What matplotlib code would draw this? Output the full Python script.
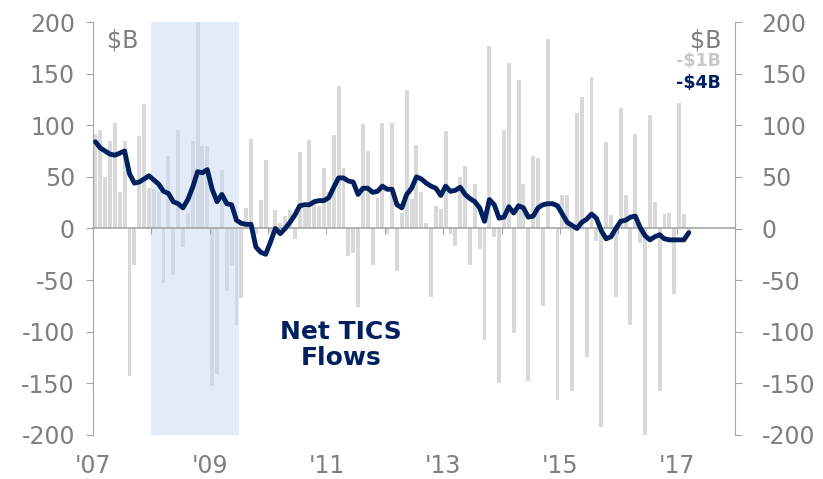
import matplotlib
matplotlib.use("Agg")
import matplotlib.pyplot as plt
import numpy as np

plt.rcParams['font.family'] = ['DejaVu Sans']
plt.rcParams['axes.unicode_minus'] = False

# monthly net TICS flows, $B, Jan 2007 .. Mar 2017
bars = [92, 95, 50, 85, 102, 35, 85, -143, -35, 90, 121, 39,
        38, 35, -53, 70, -45, 95, -18, 15, 85, 230, 80, 80,
        -153, -141, 57, -61, -35, -93, -67, 20, 87, -5, 28, 66,
        -3, 18, 5, 12, 18, -10, 74, 20, 86, 25, 22, 59,
        35, 91, 138, 59, -27, -24, -76, 101, 75, -35, 30, 102,
        -5, 102, -41, 15, 134, 29, 81, 35, 5, -66, 22, 19,
        94, -5, -17, 50, 61, -35, 43, -20, -108, 177, -8, -150,
        95, 160, -101, 144, 43, -148, 70, 68, -75, 184, 1, -166,
        32, 32, -157, 112, 127, -124, 147, -12, -192, 84, 13, -66,
        117, 32, -93, 92, -14, -202, 110, 26, -157, 14, 15, -63,
        122, 14, -1]

# smoothed flows (line), same months
line = [84, 78, 75, 72, 71, 73, 75, 53, 44, 45, 48, 51,
        47, 43, 36, 34, 26, 24, 20, 28, 40, 55, 54, 57,
        38, 26, 33, 24, 23, 8, 5, 4, 4, -18, -23, -25,
        -13, 0, -5, 0, 6, 13, 22, 23, 23, 26, 27, 27,
        30, 40, 49, 49, 46, 45, 33, 39, 39, 35, 36, 41,
        38, 38, 23, 20, 33, 39, 50, 48, 44, 41, 39, 32,
        41, 36, 37, 40, 33, 29, 26, 20, 7, 28, 23, 10,
        11, 21, 15, 22, 20, 11, 12, 20, 23, 24, 24, 22,
        14, 6, 3, 0, 6, 9, 14, 10, -2, -10, -8, 0,
        7, 8, 11, 12, 1, -7, -11, -8, -6, -10, -11, -11,
        -11, -11, -4]

year_ticks = np.arange(0, 133, 12)
year_labels = ["'07", "'09", "'11", "'13", "'15", "'17"]
recession = (12, 30)   # Jan 2008 .. Jun 2009, months from Jan 2007

grey_txt = '#7f7f7f'
navy = '#002060'
axis_grey = '#a6a6a6'

fig = plt.figure(figsize=(8.23, 4.79), dpi=100)
ax = fig.add_axes([93 / 823, 1 - 435 / 479, 642 / 823, 413 / 479])

x = np.arange(len(bars)) + 0.5
ax.bar(x, bars, width=0.8, color='#d9d9d9', zorder=1)
ax.axvspan(recession[0], recession[1], color='#c6d9f1', alpha=0.5, lw=0, zorder=1.5)
ax.plot(x, line, color=navy, lw=3.5, solid_capstyle='round', solid_joinstyle='round', zorder=3)

ax.set_xlim(0, 132)
ax.set_ylim(-200, 200)

ax.spines['top'].set_visible(False)
ax.spines['right'].set_visible(False)
ax.spines['left'].set_color(axis_grey)
ax.spines['bottom'].set_color(axis_grey)
ax.spines['bottom'].set_position(('data', 0))
ax.spines['bottom'].set_linewidth(1.2)

ax.set_xticks(year_ticks)
ax.set_xticklabels([])
ax.tick_params(axis='x', direction='out', length=4, color=axis_grey)

ax.set_yticks(np.arange(-200, 201, 50))
ax.tick_params(axis='y', direction='out', length=5, color=axis_grey,
               labelcolor=grey_txt, labelsize=17, pad=8)

for i, lab in enumerate(year_labels):
    ax.text(year_ticks[2 * i], -0.075, lab, transform=ax.get_xaxis_transform(),
            ha='center', va='center', fontsize=17, color=grey_txt)

ax2 = ax.twinx()
ax2.set_ylim(-200, 200)
ax2.set_yticks(np.arange(-200, 201, 50))
for s in ['top', 'left', 'bottom']:
    ax2.spines[s].set_visible(False)
ax2.spines['right'].set_color(axis_grey)
ax2.tick_params(axis='y', direction='out', length=5, color=axis_grey,
                labelcolor=grey_txt, labelsize=17, pad=14)

ax.text(0.022, 0.985, '$B', transform=ax.transAxes, ha='left', va='top',
        fontsize=17, color=grey_txt)
ax.text(0.978, 0.985, '$B', transform=ax.transAxes, ha='right', va='top',
        fontsize=17, color=grey_txt)
ax.text(0.978, 0.905, '-$1B', transform=ax.transAxes, ha='right', va='center',
        fontsize=12.5, fontweight='bold', color='#c8c8c8')
ax.text(0.978, 0.852, '-$4B', transform=ax.transAxes, ha='right', va='center',
        fontsize=12.5, fontweight='bold', color=navy)

fig.text(341 / 823, 1 - 345 / 479, 'Net TICS\nFlows', ha='center', va='center',
         fontsize=18, fontweight='bold', color=navy, linespacing=1.1)

fig.savefig('out.png', dpi=100)
